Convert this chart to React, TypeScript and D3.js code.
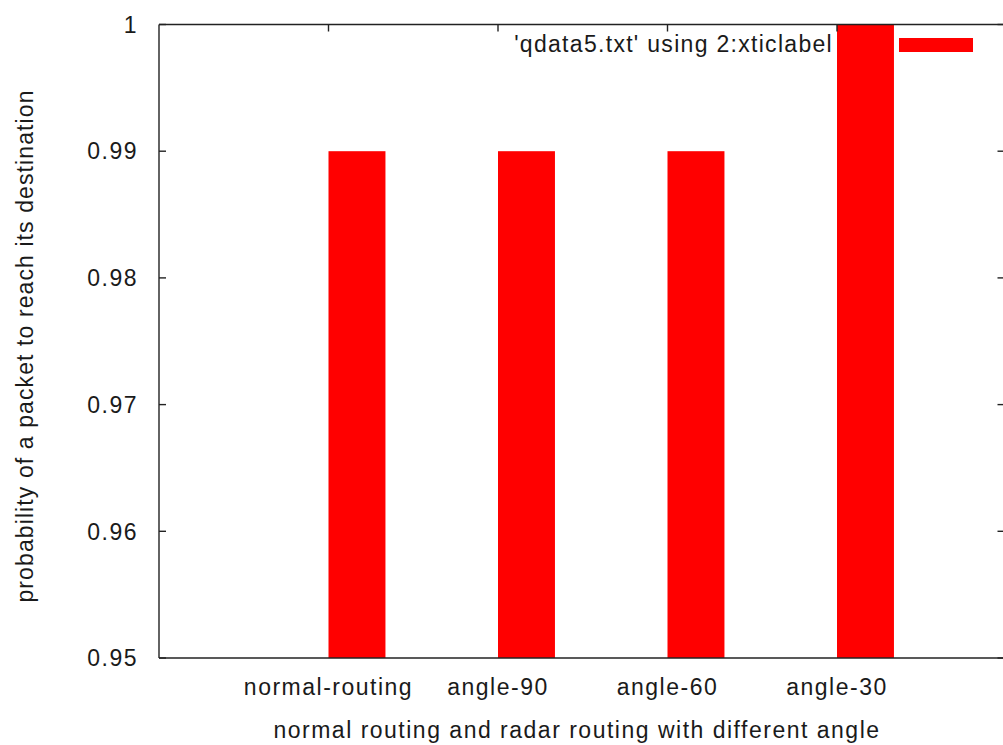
import React, { useEffect, useRef } from "react";
import * as d3 from "d3";

const categories = ["normal-routing", "angle-90", "angle-60", "angle-30"];
const values = [0.99, 0.99, 0.99, 1.0];
const yTicks = [0.95, 0.96, 0.97, 0.98, 0.99, 1];
const legendLabel = "'qdata5.txt' using 2:xticlabel";
const xTitle = "normal routing and radar routing with different angle";
const yTitle = "probability of a packet to reach its destination";

const App = () => {
  const svgRef = useRef<SVGSVGElement>(null);

  useEffect(() => {
    document.body.style.margin = "0";
    const width = 1003;
    const height = 745;
    const left = 159;
    const right = 1006.5;
    const top = 24.5;
    const bottom = 658;
    const boxWidth = 0.336;
    const font = "'Liberation Sans', Arial, sans-serif";
    const textColor = "#1a1a1a";

    const svg = d3
      .select(svgRef.current)
      .attr("width", width)
      .attr("height", height)
      .style("display", "block");
    svg.selectAll("*").remove();

    // gnuplot-style xrange [-1:4], boxes start at the tic position
    const xScale = d3.scaleLinear().domain([-1, 4]).range([left, right]);
    const yScale = d3.scaleLinear().domain([0.95, 1]).range([bottom, top]);

    svg
      .append("g")
      .selectAll("rect")
      .data(values)
      .enter()
      .append("rect")
      .attr("x", (d, i) => xScale(i))
      .attr("y", (d) => yScale(d))
      .attr("width", xScale(boxWidth) - xScale(0))
      .attr("height", (d) => bottom - yScale(d))
      .attr("fill", "#ff0000");

    // frame
    const axis = svg.append("g").attr("stroke", "#222").attr("stroke-width", 1.4);
    axis.append("line").attr("x1", left).attr("x2", right).attr("y1", top).attr("y2", top);
    axis.append("line").attr("x1", left).attr("x2", right).attr("y1", bottom).attr("y2", bottom);
    axis.append("line").attr("x1", left).attr("x2", left).attr("y1", top).attr("y2", bottom);
    axis.append("line").attr("x1", right).attr("x2", right).attr("y1", top).attr("y2", bottom);

    yTicks.forEach((t) => {
      const y = yScale(t);
      axis.append("line").attr("x1", left).attr("x2", left + 7).attr("y1", y).attr("y2", y);
      axis.append("line").attr("x1", right - 9).attr("x2", right).attr("y1", y).attr("y2", y);
      svg
        .append("text")
        .attr("x", 138)
        .attr("y", y)
        .attr("dy", "0.36em")
        .attr("text-anchor", "end")
        .attr("font-family", font)
        .attr("font-size", 23)
        .attr("letter-spacing", 1.5)
        .attr("fill", textColor)
        .text(d3.format("~g")(t));
    });

    // mirrored x ticks on top (bottom ones sit under the bars)
    categories.forEach((c, i) => {
      const x = xScale(i);
      axis.append("line").attr("x1", x).attr("x2", x).attr("y1", top).attr("y2", top + 7);
    });

    svg
      .append("g")
      .selectAll("text")
      .data(categories)
      .enter()
      .append("text")
      .attr("x", (d, i) => xScale(i))
      .attr("y", 695)
      .attr("text-anchor", "middle")
      .attr("font-family", font)
      .attr("font-size", 23)
      .attr("letter-spacing", 1.5)
      .attr("fill", textColor)
      .text((d) => d);

    svg
      .append("text")
      .attr("x", 577)
      .attr("y", 738)
      .attr("text-anchor", "middle")
      .attr("font-family", font)
      .attr("font-size", 23)
      .attr("letter-spacing", 1.5)
      .attr("fill", textColor)
      .text(xTitle);

    svg
      .append("text")
      .attr("transform", "translate(33,346) rotate(-90)")
      .attr("text-anchor", "middle")
      .attr("font-family", font)
      .attr("font-size", 23)
      .attr("letter-spacing", 1.1)
      .attr("fill", textColor)
      .text(yTitle);

    // legend
    svg
      .append("text")
      .attr("x", 833)
      .attr("y", 52)
      .attr("text-anchor", "end")
      .attr("font-family", font)
      .attr("font-size", 23)
      .attr("letter-spacing", 1.3)
      .attr("fill", textColor)
      .text(legendLabel);
    svg
      .append("rect")
      .attr("x", 899)
      .attr("y", 38)
      .attr("width", 74)
      .attr("height", 14)
      .attr("fill", "#ff0000");
  }, []);

  return <svg ref={svgRef}></svg>;
};

export default App;
